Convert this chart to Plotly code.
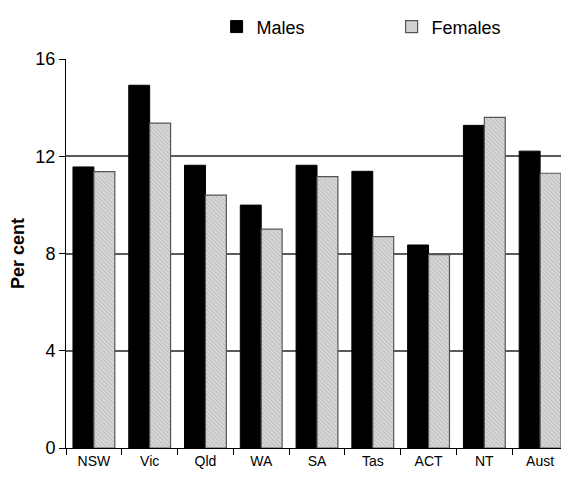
import plotly.graph_objects as go

categories = ["NSW", "Vic", "Qld", "WA", "SA", "Tas", "ACT", "NT", "Aust"]
males = [11.56, 14.92, 11.63, 9.99, 11.63, 11.38, 8.35, 13.27, 12.21]
females = [11.37, 13.36, 10.40, 9.00, 11.16, 8.69, 7.95, 13.60, 11.30]
y_ticks = [0, 4, 8, 12, 16]

fig = go.Figure()
fig.add_trace(go.Bar(
    x=categories, y=males, name="Males",
    marker=dict(color="black", line=dict(color="black", width=1)),
))
fig.add_trace(go.Bar(
    x=categories, y=females, name="Females",
    marker=dict(
        color="#d2d2d2",
        line=dict(color="#555555", width=1.2),
        pattern=dict(shape="\\", fgcolor="#9a9a9a", bgcolor="#d8d8d8", size=3, solidity=0.3),
    ),
))

fig.update_layout(
    width=561, height=478,
    margin=dict(l=58, r=1, t=51, b=38, autoexpand=False),
    paper_bgcolor="white", plot_bgcolor="white",
    barmode="group", bargap=0.25, bargroupgap=0,
    font=dict(family="Liberation Sans, Arial, sans-serif", color="black"),
    legend=dict(
        orientation="h", x=0.30, xanchor="left", y=1.035, yanchor="bottom",
        font=dict(size=18), itemwidth=30, entrywidth=130,
        traceorder="normal",
    ),
    showlegend=True,
)
fig.update_xaxes(
    showline=True, linecolor="black", linewidth=1,
    ticks="outside", ticklen=6, tickcolor="black", tickson="boundaries",
    tickfont=dict(size=14), showgrid=False,
)
fig.update_yaxes(
    range=[0, 16], tickvals=y_ticks,
    showline=True, linecolor="black", linewidth=1,
    ticks="outside", ticklen=6, tickcolor="black",
    tickfont=dict(size=18),
    showgrid=True, gridcolor="#5a5a5a", gridwidth=1.5,
    zeroline=False, automargin=False,
    title=dict(text="<b>Per cent</b>", font=dict(size=18), standoff=8),
)

fig.write_html("out.html")
